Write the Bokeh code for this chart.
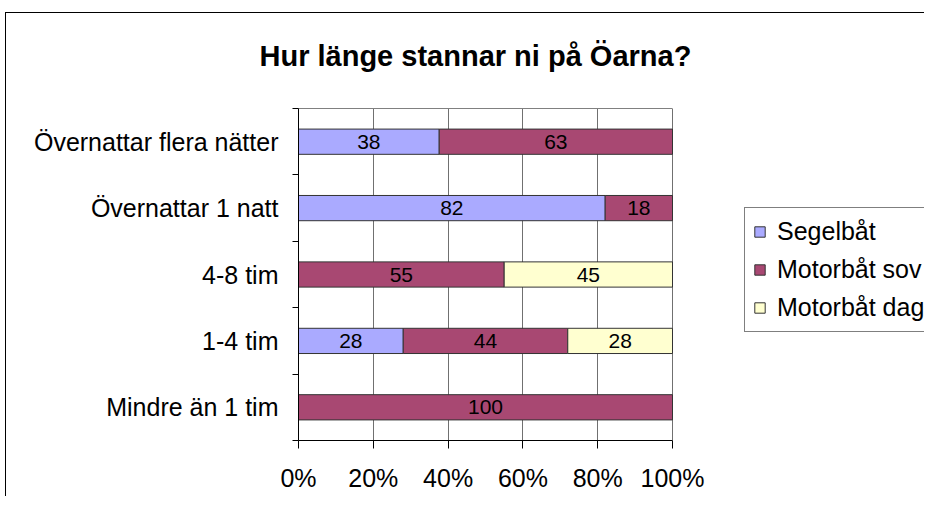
from bokeh.plotting import figure
from bokeh.models import (Range1d, FixedTicker, NumeralTickFormatter, ColumnDataSource,
                          Legend, LegendItem, LinearAxis, Title)
from bokeh.embed import file_html
from bokeh.resources import INLINE
from bokeh.core.properties import value

# ---- data ----
chart_title = "Hur länge stannar ni på Öarna?"
categories = ["Mindre än 1 tim", "1-4 tim", "4-8 tim", "Övernattar 1 natt", "Övernattar flera nätter"]
series_names = ["Segelbåt", "Motorbåt sov", "Motorbåt dag"]
segelbat = [0, 28, 0, 82, 38]
motorbat_sov = [100, 44, 55, 18, 63]
motorbat_dag = [0, 28, 45, 0, 0]
x_ticks = [0, 0.2, 0.4, 0.6, 0.8, 1.0]

# ---- style ----
colors = ["#AAAAFF", "#A84872", "#FFFFD0"]
FONT = "Liberation Sans"
FIG_W = 924
LEFT = 298
PLOT_W = 374            # pixels for 0..100 %
FRAME_W = FIG_W - LEFT  # frame runs to the right edge (room for legend)

n = len(categories)
p = figure(width=FIG_W, height=496, output_backend="svg", toolbar_location=None, title=None,
           x_range=Range1d(0, FRAME_W / PLOT_W), y_range=Range1d(0, n),
           min_border_left=LEFT, min_border_right=0, min_border_top=108, min_border_bottom=56)
p.background_fill_color = "white"
p.border_fill_alpha = 0
p.outline_line_color = None
# outer chart border (left and top edge) drawn behind the transparent canvas border
p.styles = {
    "background-color": "white",
    "background-image": "linear-gradient(#000, #000), linear-gradient(#000, #000)",
    "background-size": "1px 100%, 100% 1px",
    "background-position": "5px 12px, 5px 12px",
    "background-repeat": "no-repeat",
}

series = [segelbat, motorbat_sov, motorbat_dag]
totals = [sum(v) for v in zip(*series)]
ys = [i + 0.5 for i in range(n)]
left = [0.0] * n
items = []
for name, vals, col in zip(series_names, series, colors):
    frac = [v / t for v, t in zip(vals, totals)]
    right = [l + f for l, f in zip(left, frac)]
    keep = [i for i in range(n) if vals[i] > 0]
    src = ColumnDataSource(dict(
        y=[ys[i] for i in keep],
        left=[left[i] for i in keep],
        right=[right[i] for i in keep],
        mid=[(left[i] + right[i]) / 2 for i in keep],
        label=[str(vals[i]) for i in keep],
    ))
    r = p.hbar(y="y", left="left", right="right", height=0.38, source=src,
               fill_color=col, line_color="#333333", line_width=1)
    p.text(x="mid", y="y", text="label", source=src, text_font=value(FONT),
           text_font_size="21px", text_align="center", text_baseline="middle",
           text_color="black")
    items.append(LegendItem(label=name, renderers=[r]))
    left = right

# x axis
p.xaxis.bounds = (0, 1)
p.xaxis.ticker = FixedTicker(ticks=x_ticks)
p.xaxis.formatter = NumeralTickFormatter(format="0%")
p.xaxis.major_tick_out = 8
p.xaxis.major_tick_in = 0
p.xaxis.minor_tick_out = 0
p.xaxis.minor_tick_in = 0
p.xaxis.major_label_standoff = 15
p.xaxis.major_label_text_font = FONT
p.xaxis.major_label_text_font_size = "25px"
p.xaxis.major_label_text_color = "black"
p.xaxis.axis_line_color = "black"
p.xaxis.major_tick_line_color = "black"

# y axis
p.yaxis.ticker = FixedTicker(ticks=ys, minor_ticks=list(range(n + 1)))
p.yaxis.major_label_overrides = {y: c for y, c in zip(ys, categories)}
p.yaxis.major_tick_out = 0
p.yaxis.major_tick_in = 0
p.yaxis.minor_tick_out = 6
p.yaxis.minor_tick_in = 0
p.yaxis.minor_tick_line_color = "black"
p.yaxis.major_label_standoff = 14
p.yaxis.major_label_text_font = FONT
p.yaxis.major_label_text_font_size = "25px"
p.yaxis.major_label_text_color = "black"
p.yaxis.axis_line_color = "black"

# grid (vertical lines; the one at 100 % closes the plot area)
p.xgrid.ticker = FixedTicker(ticks=x_ticks)
p.xgrid.grid_line_color = "#707070"
p.ygrid.visible = False

# top edge of the plot area
top_edge = LinearAxis(bounds=(0, 1), ticker=FixedTicker(ticks=[]),
                      axis_line_color="#808080", major_tick_out=0, major_tick_in=0,
                      minor_tick_out=0, minor_tick_in=0, major_label_text_font_size="0px")
p.add_layout(top_edge, "above")

# title
p.add_layout(Title(text=chart_title, align="left", offset=-39, standoff=73,
                   text_font=FONT, text_font_size="29px", text_font_style="bold",
                   text_color="black"), "above")

# legend
legend = Legend(items=items, location=(446, 108), orientation="vertical")
legend.label_text_font = FONT
legend.label_text_font_size = "25px"
legend.label_text_color = "black"
legend.glyph_width = 13
legend.glyph_height = 13
legend.label_standoff = 11
legend.label_height = 31
legend.label_width = 170
legend.padding = 8
legend.spacing = 7
legend.margin = 0
legend.border_line_color = "black"
legend.border_line_width = 1
legend.background_fill_color = "white"
legend.background_fill_alpha = 1
p.add_layout(legend)

open("out.html", "w").write(file_html(p, INLINE))
